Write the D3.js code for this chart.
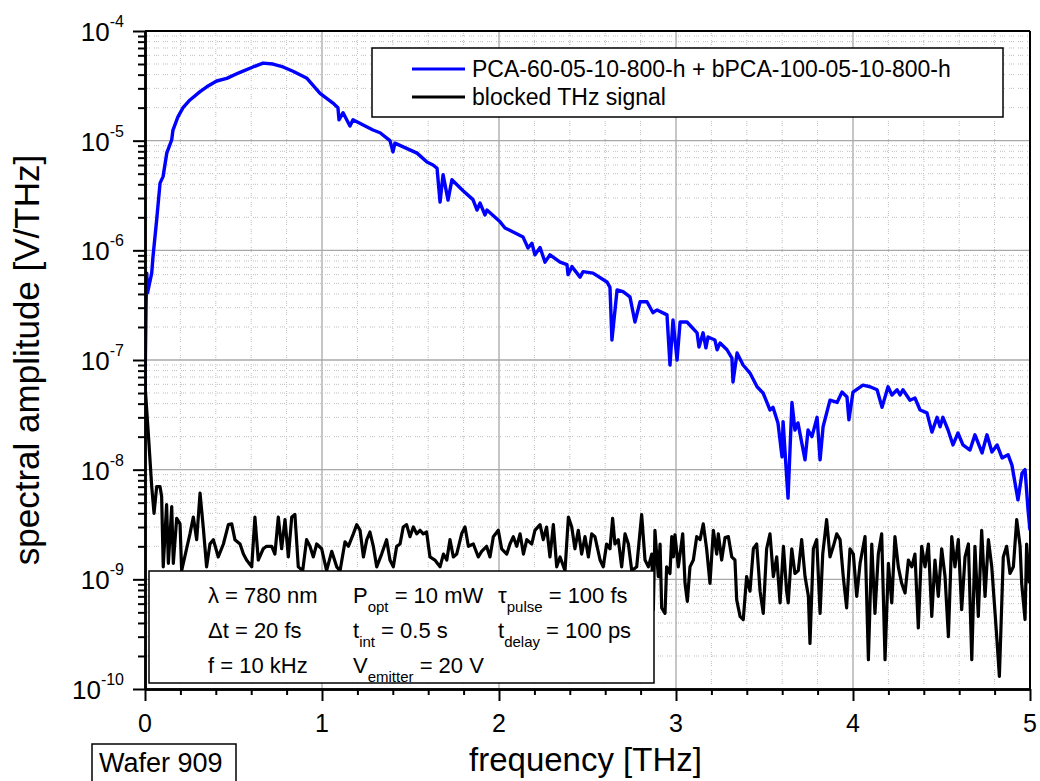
<!DOCTYPE html>
<html><head><meta charset="utf-8">
<script src="https://cdn.jsdelivr.net/npm/d3@7"></script>
<style>
body{margin:0;background:#fff}
text{font-family:"Liberation Sans",Arial,Helvetica,sans-serif;fill:#000}
</style>
</head><body>
<svg id="chart" width="1040" height="781"></svg>
<script>
// ---------------- data ----------------
const xTickValues = [0, 1, 2, 3, 4, 5];
const yTickExponents = [-4, -5, -6, -7, -8, -9, -10];
const seriesNames = ["PCA-60-05-10-800-h + bPCA-100-05-10-800-h", "blocked THz signal"];
const seriesColors = ["#0000ff", "#000000"];
const xTitle = "frequency [THz]";
const yTitle = "spectral amplitude [V/THz]";
const waferLabel = "Wafer 909";

// THz emitter spectrum (frequency THz, amplitude V/THz)
const signalFreq = [0.000,0.006,0.010,0.014,0.038,0.045,0.066,0.085,0.102,0.123,0.151,0.158,0.186,0.215,0.254,0.311,0.349,0.405,0.462,0.537,0.610,0.667,0.723,0.780,0.836,0.915,0.989,1.062,1.090,1.096,1.119,1.158,1.175,1.288,1.328,1.384,1.401,1.412,1.537,1.593,1.627,1.650,1.667,1.684,1.712,1.734,1.797,1.853,1.876,1.893,1.921,1.932,2.006,2.034,2.080,2.136,2.164,2.186,2.203,2.232,2.260,2.288,2.345,2.384,2.390,2.412,2.458,2.475,2.531,2.610,2.627,2.638,2.667,2.701,2.740,2.768,2.797,2.836,2.870,2.893,2.949,2.966,2.983,3.006,3.023,3.062,3.119,3.130,3.153,3.169,3.181,3.220,3.232,3.249,3.288,3.316,3.322,3.345,3.379,3.418,3.458,3.492,3.531,3.548,3.576,3.599,3.605,3.633,3.655,3.672,3.689,3.729,3.746,3.768,3.797,3.814,3.831,3.870,3.910,3.938,3.966,3.977,4.000,4.056,4.096,4.136,4.164,4.198,4.220,4.249,4.266,4.282,4.322,4.350,4.379,4.418,4.446,4.475,4.492,4.508,4.537,4.565,4.593,4.621,4.661,4.689,4.729,4.757,4.785,4.814,4.842,4.876,4.898,4.932,4.955,4.972,4.989,5.000];
const signalAmp = [5.5e-8,3.0e-7,6.2e-7,4.1e-7,6.2e-7,8.7e-7,1.9e-6,4.1e-6,4.7e-6,7.7e-6,1.02e-5,1.25e-5,1.65e-5,2.0e-5,2.35e-5,2.8e-5,3.1e-5,3.5e-5,3.7e-5,4.2e-5,4.7e-5,5.1e-5,5.0e-5,4.7e-5,4.3e-5,3.7e-5,2.7e-5,2.2e-5,2.0e-5,1.55e-5,1.8e-5,1.36e-5,1.55e-5,1.25e-5,1.18e-5,1.0e-5,7.9e-6,9.5e-6,7.7e-6,6.4e-6,6.0e-6,5.6e-6,2.76e-6,4.9e-6,2.87e-6,4.4e-6,3.5e-6,2.9e-6,2.33e-6,2.7e-6,2.1e-6,2.33e-6,1.82e-6,1.6e-6,1.47e-6,1.32e-6,1.05e-6,1.16e-6,9.1e-7,1.06e-6,7.8e-7,9.1e-7,7.8e-7,7.4e-7,6.0e-7,7.1e-7,5.7e-7,6.4e-7,6.2e-7,5.15e-7,4.6e-7,1.52e-7,4.35e-7,4.2e-7,3.76e-7,2.22e-7,3.4e-7,3.4e-7,2.7e-7,2.86e-7,2.58e-7,9.0e-8,2.32e-7,1.0e-7,2.22e-7,2.22e-7,1.77e-7,1.31e-7,1.77e-7,1.29e-7,1.62e-7,1.52e-7,1.24e-7,1.43e-7,1.24e-7,1.04e-7,6.3e-8,1.16e-7,9.0e-8,7.6e-8,5.7e-8,5.0e-8,3.5e-8,3.7e-8,2.67e-8,1.31e-8,2.74e-8,5.5e-9,4.1e-8,2.3e-8,2.67e-8,1.23e-8,2.3e-8,2.0e-8,3.0e-8,1.23e-8,2.46e-8,4.3e-8,4.1e-8,5.1e-8,4.6e-8,2.85e-8,5.1e-8,5.9e-8,5.7e-8,5.35e-8,3.7e-8,5.7e-8,4.8e-8,5.35e-8,4.8e-8,5.35e-8,4.3e-8,4.5e-8,3.5e-8,3.3e-8,2.2e-8,3.0e-8,2.46e-8,3.0e-8,2.3e-8,1.68e-8,2.16e-8,1.68e-8,1.51e-8,2.08e-8,1.42e-8,2.08e-8,1.45e-8,1.68e-8,1.28e-8,1.37e-8,1.1e-8,5.3e-9,9.3e-9,1.0e-8,4.3e-9,2.8e-9];

// blocked THz signal (noise floor)
const blockedFreq = [0.000,0.019,0.038,0.051,0.066,0.085,0.094,0.103,0.122,0.132,0.151,0.160,0.179,0.198,0.207,0.235,0.254,0.273,0.292,0.311,0.329,0.348,0.367,0.386,0.414,0.443,0.471,0.490,0.508,0.537,0.556,0.574,0.603,0.621,0.640,0.668,0.687,0.716,0.734,0.753,0.772,0.791,0.810,0.829,0.847,0.866,0.891,0.913,0.932,0.951,0.970,0.998,1.026,1.055,1.083,1.102,1.130,1.149,1.177,1.196,1.215,1.234,1.253,1.271,1.290,1.309,1.337,1.365,1.384,1.403,1.422,1.441,1.459,1.478,1.497,1.516,1.535,1.554,1.572,1.591,1.610,1.638,1.667,1.686,1.705,1.723,1.742,1.761,1.789,1.808,1.827,1.855,1.883,1.902,1.930,1.949,1.968,1.996,2.015,2.044,2.062,2.081,2.100,2.119,2.138,2.157,2.185,2.203,2.232,2.250,2.269,2.288,2.307,2.326,2.345,2.373,2.392,2.411,2.429,2.448,2.467,2.486,2.505,2.524,2.542,2.571,2.589,2.608,2.627,2.642,2.655,2.674,2.693,2.712,2.731,2.750,2.778,2.806,2.825,2.844,2.863,2.872,2.881,2.900,2.910,2.919,2.938,2.947,2.966,2.976,2.985,2.994,3.013,3.023,3.038,3.051,3.064,3.079,3.098,3.117,3.136,3.154,3.173,3.192,3.211,3.230,3.239,3.258,3.277,3.296,3.315,3.333,3.343,3.362,3.380,3.399,3.418,3.437,3.456,3.475,3.493,3.512,3.531,3.550,3.569,3.588,3.607,3.625,3.634,3.654,3.672,3.691,3.710,3.729,3.748,3.757,3.776,3.795,3.814,3.829,3.851,3.870,3.889,3.908,3.927,3.945,3.964,3.983,4.002,4.021,4.040,4.068,4.087,4.106,4.124,4.143,4.162,4.181,4.200,4.219,4.237,4.256,4.275,4.294,4.313,4.332,4.350,4.369,4.388,4.407,4.426,4.445,4.463,4.482,4.501,4.520,4.539,4.558,4.576,4.595,4.614,4.633,4.652,4.671,4.689,4.708,4.727,4.746,4.765,4.784,4.812,4.827,4.849,4.868,4.887,4.906,4.925,4.944,4.953,4.972,4.981,4.996];
const blockedAmp = [6.0e-8,2.1e-8,7.0e-9,4.0e-9,7.0e-9,7.0e-9,5.7e-9,1.3e-9,4.8e-9,1.4e-9,4.6e-9,1.4e-9,3.6e-9,3.2e-9,1.2e-9,1.9e-9,2.6e-9,3.7e-9,2.3e-9,6.1e-9,3.0e-9,1.3e-9,2.1e-9,2.3e-9,1.6e-9,2.1e-9,3.15e-9,3.2e-9,2.3e-9,2.1e-9,1.7e-9,1.5e-9,1.3e-9,3.7e-9,1.5e-9,1.9e-9,2.0e-9,2.0e-9,1.7e-9,3.7e-9,1.9e-9,3.5e-9,1.6e-9,3.7e-9,3.9e-9,1.3e-9,1.2e-9,2.3e-9,2.0e-9,1.6e-9,2.1e-9,1.9e-9,1.2e-9,1.8e-9,1.3e-9,1.2e-9,2.2e-9,2.0e-9,2.6e-9,3.15e-9,2.8e-9,1.6e-9,2.3e-9,2.7e-9,2.0e-9,1.3e-9,1.7e-9,2.3e-9,1.5e-9,1.3e-9,2.0e-9,2.1e-9,3.0e-9,3.15e-9,2.45e-9,3.0e-9,2.6e-9,2.8e-9,2.6e-9,2.7e-9,1.6e-9,1.5e-9,1.3e-9,1.7e-9,1.5e-9,2.3e-9,1.6e-9,1.7e-9,2.6e-9,3.0e-9,2.0e-9,2.1e-9,1.6e-9,1.8e-9,2.0e-9,1.6e-9,2.45e-9,2.8e-9,1.9e-9,1.7e-9,2.1e-9,2.45e-9,2.0e-9,2.6e-9,1.7e-9,2.3e-9,2.1e-9,2.8e-9,3.15e-9,2.3e-9,3.0e-9,1.6e-9,3.15e-9,1.3e-9,1.6e-9,1.2e-9,3.7e-9,3.0e-9,1.9e-9,2.8e-9,1.7e-9,2.45e-9,1.6e-9,2.6e-9,2.45e-9,1.5e-9,1.3e-9,2.1e-9,1.9e-9,3.6e-9,2.1e-9,2.3e-9,1.3e-9,2.6e-9,2.1e-9,1.2e-9,1.3e-9,3.9e-9,1.5e-9,1.3e-9,1.7e-9,5.3e-10,2.8e-9,1.06e-9,2.1e-9,5.5e-10,4.9e-10,1.3e-9,1.13e-9,2.45e-9,1.6e-9,2.55e-9,1.3e-9,1.7e-9,2.6e-9,9.2e-10,6.3e-10,1.3e-9,1.5e-9,2.45e-9,2.3e-9,3.2e-9,1.9e-9,9.2e-10,2.8e-9,1.7e-9,2.6e-9,1.5e-9,2.4e-9,2.45e-9,1.6e-9,1.5e-9,6.5e-10,4.6e-10,4.3e-10,1.06e-9,7.8e-10,1.9e-9,2.1e-9,7.8e-10,4.9e-10,1.9e-9,2.6e-9,1.06e-9,1.6e-9,6.1e-10,2.0e-9,7.8e-10,6.1e-10,1.9e-9,1.13e-9,1.2e-9,2.3e-9,1.06e-9,7.0e-10,2.6e-10,1.9e-9,2.3e-9,4.9e-10,1.7e-9,3.5e-9,1.6e-9,2.0e-9,2.6e-9,2.3e-9,1.06e-9,5.5e-10,1.9e-9,1.7e-9,7.0e-10,1.4e-9,2.45e-9,1.85e-10,2.1e-9,4.9e-10,1.7e-9,2.6e-9,1.85e-10,1.4e-9,6.1e-10,2.45e-9,1.3e-9,9.2e-10,7.5e-10,1.5e-9,1.3e-9,1.7e-9,3.6e-10,2.0e-9,1.3e-9,2.1e-9,4.6e-10,1.5e-9,7.0e-10,1.9e-9,1.06e-9,3.0e-10,2.45e-9,1.3e-9,2.3e-9,5.3e-10,1.6e-9,2.1e-9,1.85e-10,2.0e-9,4.6e-10,2.8e-9,7.0e-10,2.3e-9,1.3e-9,3.0e-10,1.3e-10,1.6e-9,2.0e-9,1.13e-9,1.3e-9,3.5e-9,2.0e-9,9.2e-10,4.3e-10,2.1e-9,9.2e-10];

// measurement parameters (main, subscript, rest)
const paramRow1 = [["λ", "", " = 780 nm"], ["P", "opt", " = 10 mW"], ["τ", "pulse", " = 100 fs"]];
const paramRow2 = [["Δt", "", " = 20 fs"], ["t", "int", " = 0.5 s"], ["t", "delay", " = 100 ps"]];
const paramRow3 = [["f", "", " = 10 kHz"], ["V", "emitter", " = 20 V"]];

// ---------------- drawing ----------------
const svg = d3.select("#chart");
const L = 145, R = 1030, T = 31, B = 689;
const x = d3.scaleLinear().domain([0, 5]).range([L, R]);
const y = d3.scaleLog().domain([1e-10, 1e-4]).range([B, T]);

const yMajor = yTickExponents.map(e => Math.pow(10, e));
const yMinor = [];
for (let e = -10; e < -4; e++) for (let k = 2; k <= 9; k++) yMinor.push(k * Math.pow(10, e));
const xMinor = d3.range(1, 25).map(i => i * 0.2).filter(v => Math.abs(v - Math.round(v)) > 1e-6);

// grid
const grid = svg.append("g");
grid.selectAll(".hm").data(yMinor).join("line")
  .attr("x1", L).attr("x2", R).attr("y1", d => y(d)).attr("y2", d => y(d))
  .attr("stroke", "#bdbdbd").attr("stroke-width", 1).attr("stroke-dasharray", "1,1,1,1,1,4");
grid.selectAll(".vm").data(xMinor).join("line")
  .attr("y1", T).attr("y2", B).attr("x1", d => x(d)).attr("x2", d => x(d))
  .attr("stroke", "#bdbdbd").attr("stroke-width", 1).attr("stroke-dasharray", "1,1,1,1,1,4");
grid.selectAll(".hM").data(yMajor.slice(1, -1)).join("line")
  .attr("x1", L).attr("x2", R).attr("y1", d => y(d)).attr("y2", d => y(d))
  .attr("stroke", "#a8a8a8").attr("stroke-width", 1.3);
grid.selectAll(".vM").data(xTickValues.slice(1, -1)).join("line")
  .attr("y1", T).attr("y2", B).attr("x1", d => x(d)).attr("x2", d => x(d))
  .attr("stroke", "#a8a8a8").attr("stroke-width", 1.3);

// curves
svg.append("clipPath").attr("id", "clip").append("rect")
  .attr("x", L).attr("y", T).attr("width", R - L).attr("height", B - T);
const line = d3.line().x(d => x(d[0])).y(d => y(d[1]));
const blockedData = blockedFreq.map((f, i) => [f, blockedAmp[i]]);
const signalData = signalFreq.map((f, i) => [f, signalAmp[i]]);
const curves = svg.append("g").attr("clip-path", "url(#clip)");
curves.append("path").datum(blockedData).attr("d", line)
  .attr("fill", "none").attr("stroke", seriesColors[1]).attr("stroke-width", 3.2).attr("stroke-linejoin", "round");
curves.append("path").datum(signalData).attr("d", line)
  .attr("fill", "none").attr("stroke", seriesColors[0]).attr("stroke-width", 3.4).attr("stroke-linejoin", "round");

// frame (top, right)
svg.append("line").attr("x1", L).attr("x2", R).attr("y1", T).attr("y2", T).attr("stroke", "#000").attr("stroke-width", 2);
svg.append("line").attr("x1", R).attr("x2", R).attr("y1", T).attr("y2", B).attr("stroke", "#000").attr("stroke-width", 2);

// axes
function styleAxis(g, w) {
  g.select(".domain").attr("stroke-width", w);
  g.selectAll(".tick line").attr("stroke-width", 2);
  g.selectAll(".tick text").remove();
}
svg.append("g").attr("transform", `translate(${L},0)`)
  .call(d3.axisLeft(y).tickValues(yMinor).tickSize(7).tickSizeOuter(0).tickFormat(""))
  .call(g => styleAxis(g, 2.5));
svg.append("g").attr("transform", `translate(${L},0)`)
  .call(d3.axisLeft(y).tickValues(yMajor).tickSize(12).tickSizeOuter(0).tickFormat(""))
  .call(g => styleAxis(g, 2.5));
svg.append("g").attr("transform", `translate(0,${B})`)
  .call(d3.axisBottom(x).tickValues(xMinor).tickSize(6).tickSizeOuter(0).tickFormat(""))
  .call(g => styleAxis(g, 2.5));
svg.append("g").attr("transform", `translate(0,${B})`)
  .call(d3.axisBottom(x).tickValues(xTickValues).tickSize(12).tickSizeOuter(0).tickFormat(""))
  .call(g => styleAxis(g, 2.5));

// y tick labels 10^n
const yl = svg.append("g").selectAll("text").data(yTickExponents).join("text")
  .attr("x", 124).attr("y", d => y(Math.pow(10, d)) + 10).attr("text-anchor", "end");
yl.append("tspan").attr("font-size", 26).text("10");
yl.append("tspan").attr("font-size", 16).attr("dy", -14).text(d => String(d));

// x tick labels
svg.append("g").selectAll("text").data(xTickValues).join("text")
  .attr("x", d => x(d)).attr("y", 732).attr("text-anchor", "middle").attr("font-size", 25).text(d => d);

// axis titles
svg.append("text").attr("x", x(2.5) - 2).attr("y", 771).attr("text-anchor", "middle")
  .attr("font-size", 33).text(xTitle);
svg.append("text").attr("transform", "translate(39,360) rotate(-90)").attr("text-anchor", "middle")
  .attr("font-size", 35).text(yTitle);

// legend
const lg = svg.append("g");
lg.append("rect").attr("x", 372).attr("y", 48).attr("width", 631).attr("height", 69)
  .attr("fill", "#fff").attr("stroke", "#000").attr("stroke-width", 1.5);
seriesNames.forEach((name, i) => {
  const cy = 69 + i * 28;
  lg.append("line").attr("x1", 412).attr("x2", 465).attr("y1", cy).attr("y2", cy)
    .attr("stroke", seriesColors[i]).attr("stroke-width", 3);
  lg.append("text").attr("x", 472).attr("y", cy + 8).attr("font-size", 23).text(name);
});

// parameter box
const pb = svg.append("g");
pb.append("rect").attr("x", 149).attr("y", 571).attr("width", 505).attr("height", 112)
  .attr("fill", "#fff").attr("stroke", "#000").attr("stroke-width", 1.5);
const colX = [208, 353, 498];
[paramRow1, paramRow2, paramRow3].forEach((row, r) => {
  const by = 603 + r * 35;
  row.forEach((cell, c) => {
    const t = pb.append("text").attr("x", colX[c]).attr("y", by).attr("font-size", 22);
    t.append("tspan").text(cell[0]);
    if (cell[1]) {
      t.append("tspan").attr("font-size", 15).attr("dy", 9).text(cell[1]);
      t.append("tspan").attr("dy", -9).text(cell[2]);
    } else {
      t.append("tspan").text(cell[2]);
    }
  });
});

// wafer label
svg.append("rect").attr("x", 92).attr("y", 744).attr("width", 144).attr("height", 50)
  .attr("fill", "#fff").attr("stroke", "#000").attr("stroke-width", 1.5);
svg.append("text").attr("x", 99).attr("y", 772).attr("font-size", 27).text(waferLabel);
</script>
</body></html>
